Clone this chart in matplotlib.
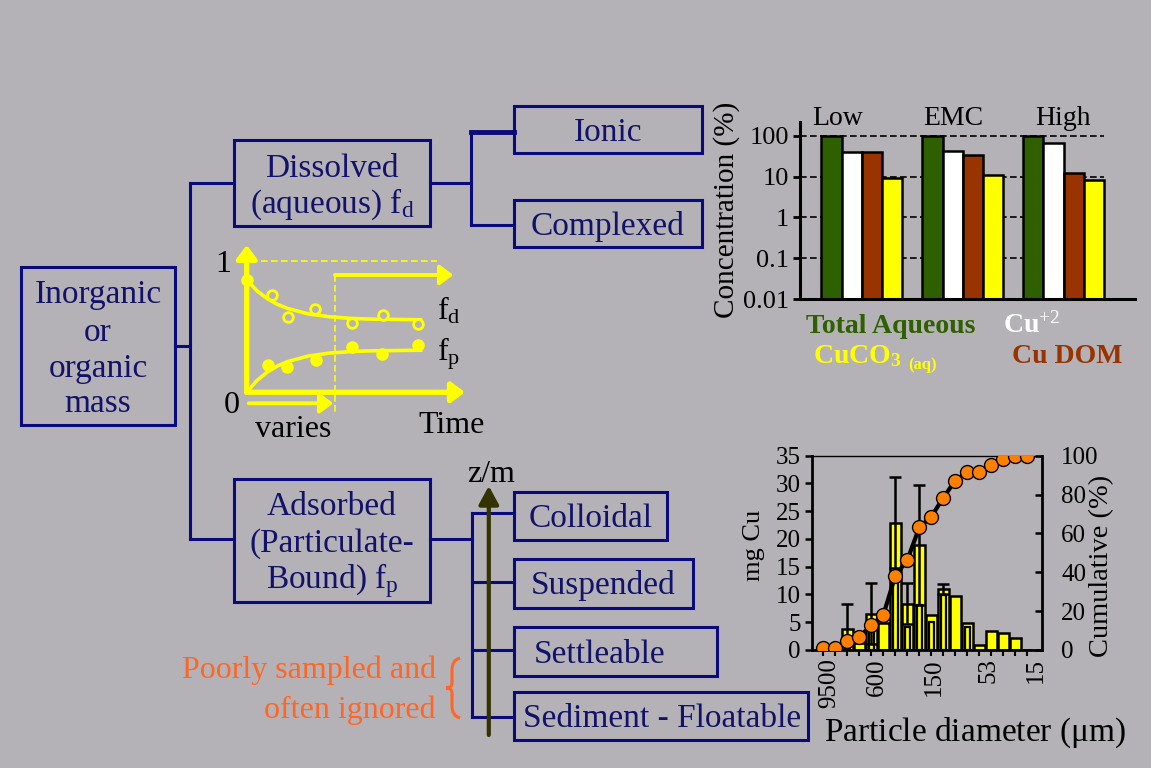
import matplotlib
matplotlib.use('Agg')
import matplotlib.pyplot as plt
import numpy as np
from matplotlib.patches import Rectangle, PathPatch
from matplotlib.path import Path
from matplotlib.ticker import NullLocator

plt.rcParams['font.family'] = ['Liberation Serif', 'DejaVu Serif']
plt.rcParams['mathtext.fontset'] = 'custom'
plt.rcParams['mathtext.rm'] = 'Liberation Serif'
plt.rcParams['mathtext.it'] = 'Liberation Serif:italic'
plt.rcParams['mathtext.bf'] = 'Liberation Serif:bold'

# ---------------- data ----------------
conc_groups = ['Low', 'EMC', 'High']
total_aqueous = [100, 100, 100]
cu_ion = [41, 43, 68]
cu_dom = [39, 34, 12.5]
cuco3 = [9.0, 11.0, 8.3]
conc_ticks = [0.01, 0.1, 1, 10, 100]
conc_tick_labels = ['0.01', '0.1', '1', '10', '100']

size_classes = list(range(18))
size_tick_labels = ['9500', '600', '150', '53', '15']
size_tick_pos = [0.5, 4.5, 9.2, 13.8, 17.7]
mg_cu_mean = [0, 0, 3.7, 1.3, 6.5, 4.8, 22.9, 8.3, 18.9, 6.3, 10.9, 9.7, 4.9, 0.9, 3.4, 3.1, 2.2, 0]
mg_cu_sample = [0, 0, 2.5, 1.3, 3.5, 4.8, 12.6, 4.2, 8.1, 5.1, 9.9, 9.7, 4.2, 0, 3.4, 3.1, 2.2, 0]
mg_cu_err = [0, 0, 4.6, 0, 5.5, 0, 8.2, 3.7, 10.8, 0, 0.9, 0, 0, 0, 0, 0, 0, 0]
cumulative = [1, 1, 4.8, 6.5, 12.9, 18, 38.2, 46.3, 63.1, 68.6, 78.4, 87.2, 91.5, 91.8, 95.2, 98.2, 100, 100]

time_fd = [0, 1.21, 2.02, 3.31, 5.09, 6.59, 8.31]
fd_obs = [0.853, 0.736, 0.571, 0.631, 0.529, 0.588, 0.522]
time_fp = [1.04, 1.96, 3.35, 5.09, 6.55, 8.31]
fp_obs = [0.207, 0.190, 0.245, 0.347, 0.292, 0.359]
time_fit = [0, 0.5, 1, 1.5, 2, 3, 4, 5, 6, 8.5]
fd_fit = [0.853, 0.771, 0.711, 0.667, 0.636, 0.595, 0.574, 0.562, 0.556, 0.551]
fp_fit = [0, 0.090, 0.154, 0.201, 0.234, 0.276, 0.298, 0.309, 0.315, 0.320]

# ---------------- styles ----------------
BG = '#b4b2b6'
NAVY = '#0a0a7a'
TXT = '#12126a'
YEL = '#ffff00'
ORANGE = '#ff6626'
GREEN = '#2e6000'
BROWN = '#993300'

W, H = 1151, 768
fig = plt.figure(figsize=(W / 100, H / 100), dpi=100, facecolor=BG)


def fax(x0, y0, x1, y1):
    a = fig.add_axes([x0 / W, 1 - y1 / H, (x1 - x0) / W, (y1 - y0) / H])
    a.set_facecolor('none')
    return a


ax0 = fig.add_axes([0, 0, 1, 1])
ax0.set_xlim(0, W)
ax0.set_ylim(H, 0)
ax0.axis('off')
ax0.set_facecolor('none')

FS_BOX = 24


def box(x0, y0, x1, y1):
    ax0.add_patch(Rectangle((x0, y0), x1 - x0, y1 - y0, fill=False,
                            edgecolor=NAVY, lw=2.2, zorder=3))


def line(xs, ys, lw=2.2):
    ax0.plot(xs, ys, color=NAVY, lw=lw, solid_capstyle='projecting', zorder=2)


def btext(x, y, s, size=FS_BOX, color=TXT, ha='center', **kw):
    ax0.text(x, y, s, fontsize=size, color=color, ha=ha, va='baseline', **kw)


# boxes
box(21, 267, 175, 425)
box(234, 140, 430, 226)
box(514, 106, 702, 153)
box(514, 200, 702, 247)
box(234, 479, 430, 602)
box(514, 492, 667, 540)
box(514, 559, 693, 608)
box(514, 627, 717, 676)
box(514, 692, 808, 740)

# connectors
line([175, 190.5], [345.7, 345.7])
line([190.5, 190.5], [183.3, 539.3])
line([190.5, 234], [183.3, 183.3])
line([190.5, 234], [539.3, 539.3])
line([430, 470.6], [183.3, 183.3])
line([470.6, 470.6], [131.7, 225])
line([470.6, 514], [131.7, 131.7], lw=3.5)
line([470.6, 514], [225, 225])
line([430, 472], [539.3, 539.3])
line([472, 472], [513.3, 717.3])
for yy in [513.3, 582.3, 650, 717.3]:
    line([472, 514], [yy, yy])

# box texts
btext(98, 303, 'Inorganic')
btext(98, 341, 'or')
btext(98, 377, 'organic')
btext(98, 412, 'mass')
btext(332, 177, 'Dissolved')
btext(332, 213, r'(aqueous) f$_{\mathrm{d}}$')
btext(608, 141, 'Ionic')
btext(608, 235, 'Complexed')
btext(332, 515, 'Adsorbed')
btext(332, 552, '(Particulate-')
btext(332, 588, r'Bound) f$_{\mathrm{p}}$')
btext(591, 527, 'Colloidal')
btext(603, 594, 'Suspended')
btext(600, 663, 'Settleable')
btext(662, 727, 'Sediment - Floatable')

# z/m arrow
ax0.annotate('', xy=(488.8, 486), xytext=(488.8, 735),
             arrowprops=dict(arrowstyle='-|>,head_length=1.1,head_width=0.6',
                             color='#333300', lw=3, shrinkA=0, shrinkB=0,
                             mutation_scale=10), zorder=4)
btext(491, 482, 'z/m', size=23, color='black')

# orange note and brace
btext(436, 678, 'Poorly sampled and', size=23, color=ORANGE, ha='right')
btext(436, 718, 'often ignored', size=23, color=ORANGE, ha='right')
verts = [(460, 658), (452, 660), (452, 670), (452, 680), (452, 683),
         (452, 688), (446, 688), (452, 688), (452, 693), (452, 696),
         (452, 706), (452, 716), (460, 718)]
codes = [Path.MOVETO, Path.CURVE3, Path.CURVE3, Path.LINETO, Path.LINETO,
         Path.CURVE3, Path.CURVE3, Path.CURVE3, Path.CURVE3, Path.LINETO,
         Path.LINETO, Path.CURVE3, Path.CURVE3]
ax0.add_patch(PathPatch(Path(verts, codes), fill=False, edgecolor=ORANGE, lw=2.2))

# ---------------- yellow inset (fd / fp vs time) ----------------
px_t, x_org = 20.67, 246.7
px_f, y_org = 131.6, 392.3
axi = fax(215, 240, 470, 440)
axi.set_xlim((215 - x_org) / px_t, (470 - x_org) / px_t)
axi.set_ylim((y_org - 440) / px_f, (y_org - 240) / px_f)
axi.axis('off')


def yarrow(p0, p1, lw=3.5, hl=0.8, hw=0.6):
    axi.annotate('', xy=p1, xytext=p0,
                 arrowprops=dict(arrowstyle=f'-|>,head_length={hl},head_width={hw}',
                                 color=YEL, lw=lw, shrinkA=0, shrinkB=0,
                                 mutation_scale=10))


t_end = (465 - x_org) / px_t
yarrow((0, 0), (0, (y_org - 245) / px_f), lw=3.8)
yarrow((0, 0), (t_end, 0), lw=3.8)
t_v = (335 - x_org) / px_t
f_up = (y_org - 275) / px_f
yarrow((t_v, f_up), ((453.3 - x_org) / px_t, f_up), lw=2.8)
f_var = (y_org - 403.3) / px_f
yarrow((0.1, f_var), ((333.3 - x_org) / px_t, f_var), lw=2.8)
axi.plot([0.2, (436.7 - x_org) / px_t], [1, 1], color=YEL, lw=1.2, ls=(0, (4, 2)))
axi.plot([t_v, t_v], [f_up, (y_org - 413.3) / px_f], color=YEL, lw=1.2, ls=(0, (4, 2)))
axi.plot(time_fit, fd_fit, color=YEL, lw=2.6, solid_capstyle='butt')
axi.plot(time_fit, fp_fit, color=YEL, lw=2.6, solid_capstyle='butt')
axi.plot(time_fd[1:], fd_obs[1:], ls='none', marker='o', ms=7, mfc=BG,
         mec=YEL, mew=2)
axi.plot(time_fd[:1], fd_obs[:1], ls='none', marker='o', ms=8, mfc=YEL, mec=YEL)
axi.plot(time_fp, fp_obs, ls='none', marker='o', ms=8, mfc=YEL, mec=YEL)

btext(223, 272, '1', size=23, color='black')
btext(231.7, 413, '0', size=23, color='black')
btext(437, 320, r'f$_{\mathrm{d}}$', size=23, color='black', ha='left')
btext(437, 360, r'f$_{\mathrm{p}}$', size=23, color='black', ha='left')
btext(418, 433, 'Time', size=23, color='black', ha='left')
btext(255, 437, 'varies', size=23, color='black', ha='left')

# ---------------- concentration bar chart ----------------
ax1 = fax(800, 122, 1135, 299)
ax1.set_yscale('log')
ax1.set_ylim(0.01, 217)
ax1.set_xlim(-0.611, 2.706)
bw = 0.2
xg = np.arange(len(conc_groups))
series = [(total_aqueous, GREEN), (cu_ion, 'white'), (cu_dom, BROWN), (cuco3, YEL)]
for i, (vals, col) in enumerate(series):
    ax1.bar(xg + (i - 1.5) * bw, vals, width=bw, bottom=0.01, color=col,
            edgecolor='black', lw=1.8, zorder=2)
for v in conc_ticks[1:]:
    ax1.hlines(v, -0.611, xg[-1] + 2 * bw, colors='black', lw=1.2,
               linestyles=(0, (4, 2)), zorder=1)
ax1.set_yticks(conc_ticks, conc_tick_labels)
ax1.yaxis.set_minor_locator(NullLocator())
ax1.set_xticks([])
ax1.tick_params(axis='y', direction='out', length=5, width=2, labelsize=19, pad=3)
for s in ['top', 'right']:
    ax1.spines[s].set_visible(False)
for s in ['left', 'bottom']:
    ax1.spines[s].set_linewidth(2.2)

ax0.text(727, 210, 'Concentration (%)', fontsize=21, rotation=90, ha='center',
         va='center', color='black')
btext(838, 125, conc_groups[0], size=20, color='black')
btext(953, 125, conc_groups[1], size=20, color='black')
btext(1063, 125, conc_groups[2], size=20, color='black')

btext(806, 333, 'Total Aqueous', size=20, color=GREEN, ha='left', fontweight='bold')
btext(1003, 333, r'Cu$^{\mathrm{+2}}$', size=20, color='white', ha='left', fontweight='bold')
btext(813, 363, r'CuCO$_{\mathbf{3}}$', size=20, color=YEL, ha='left', fontweight='bold')
btext(908, 369, '(aq)', size=12, color=YEL, ha='left', fontweight='bold')
btext(1122, 363, 'Cu DOM', size=20, color=BROWN, ha='right', fontweight='bold')

# ---------------- particle size histogram ----------------
ax2 = fax(811.7, 455.7, 1041.7, 650)
ax2.set_xlim(-0.967, 18.2)
ax2.set_ylim(0, 35)
xs = np.array(size_classes)
mean = np.array(mg_cu_mean)
samp = np.array(mg_cu_sample)
err = np.array(mg_cu_err)
ax2.bar(xs, mean, width=0.88, color=YEL, edgecolor='black', lw=1.8, zorder=2)
m_in = (samp < mean) & (samp > 0)
ax2.bar(xs[m_in], samp[m_in], width=0.45, color=YEL, edgecolor='black', lw=1.6, zorder=3)
m_err = err > 0
ax2.errorbar(xs[m_err], mean[m_err], yerr=err[m_err], fmt='none', ecolor='black',
             elinewidth=1.8, capsize=4.5, capthick=1.8, zorder=4)
ax2.set_yticks(range(0, 36, 5))
ax2.set_xticks(size_classes, [''] * len(size_classes))
ax2.set_xticks(size_tick_pos, size_tick_labels, minor=True)
ax2.tick_params(axis='x', which='major', direction='out', length=4, width=1.5)
ax2.tick_params(axis='x', which='minor', length=0, labelsize=18, rotation=90, pad=6)
ax2.tick_params(axis='y', direction='out', length=5, width=1.8, labelsize=18, pad=3)
ax2.spines['right'].set_visible(False)
ax2.spines['top'].set_linewidth(1.0)
ax2.spines['left'].set_linewidth(2.0)
ax2.spines['bottom'].set_linewidth(2.0)

ax3 = ax2.twinx()
ax3.set_facecolor('none')
ax3.set_ylim(0, 100)
ax3.set_yticks(range(0, 101, 20))
ax3.tick_params(axis='y', direction='in', length=5, width=1.8, labelsize=18, pad=14)
for s in ['top', 'bottom', 'left']:
    ax3.spines[s].set_visible(False)
ax3.spines['right'].set_linewidth(2.0)
ax3.plot(xs, cumulative, color='black', lw=3, marker='o', ms=10,
         mfc='#ff8000', mec='black', mew=1, zorder=5)

ax0.text(754, 545, 'mg Cu', fontsize=19, rotation=90, ha='center', va='center', color='black')
ax0.text(1102, 566, 'Cumulative (%)', fontsize=20.5, rotation=90, ha='center',
         va='center', color='black')
btext(974.5, 741, r'Particle diameter ($\mathrm{\mu}$m)', size=24, color='black')

fig.savefig('out.png', dpi=100, facecolor=BG)
